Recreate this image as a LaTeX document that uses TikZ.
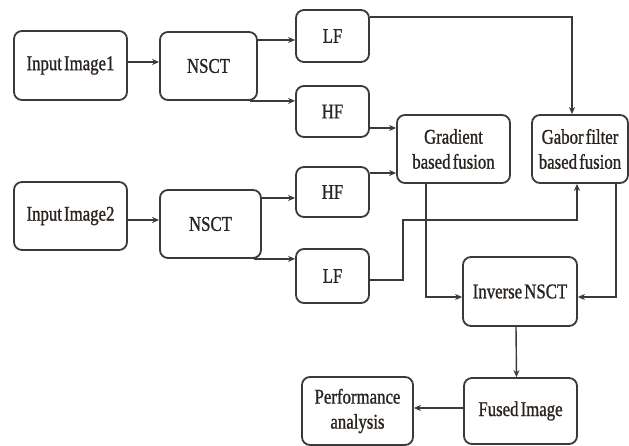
\documentclass[tikz,border=0pt]{standalone}
\usepackage{fontspec}
\setmainfont{Liberation Serif}[FakeStretch=0.8, FakeBold=1.0, WordSpace=0.5]
\usetikzlibrary{arrows.meta}
\definecolor{lincol}{HTML}{3A3A3A}
\definecolor{txtcol}{HTML}{2A2420}
\begin{document}
\begin{tikzpicture}[x=1pt,y=1pt,
  box/.style={draw=lincol, line width=1.8pt, rounded corners=8pt, inner sep=0pt,
    align=center, text=txtcol, font=\fontsize{21}{25}\selectfont},
  arr/.style={draw=lincol, line width=1.4pt, -{Stealth[length=7pt,width=6pt]}},
  ln/.style={draw=lincol, line width=1.4pt}]
\useasboundingbox (0,0) rectangle (629,446);
\fill[white] (0,0) rectangle (629,446);
% nodes
\node[box, minimum width=113pt, minimum height=69pt] (in1) at (70.5,380.5) {Input Image1};
\node[box, minimum width=97pt, minimum height=68pt] (nsct1) at (208.5,380) {NSCT};
\node[box, minimum width=73pt, minimum height=52pt] (lf1) at (332.5,410) {LF};
\node[box, minimum width=73pt, minimum height=51pt] (hf1) at (332.5,334.5) {HF};
\node[box, minimum width=113pt, minimum height=68pt] (in2) at (70.5,230) {Input Image2};
\node[box, minimum width=101pt, minimum height=68pt] (nsct2) at (210.5,222) {NSCT};
\node[box, minimum width=73pt, minimum height=50pt] (hf2) at (332.5,254) {HF};
\node[box, minimum width=73pt, minimum height=54pt] (lf2) at (332.5,170) {LF};
\node[box, minimum width=113pt, minimum height=68pt] (grad) at (453.5,297) {Gradient\\based fusion};
\node[box, minimum width=96pt, minimum height=68pt] (gabor) at (580,297) {Gabor filter\\based fusion};
\node[box, minimum width=114pt, minimum height=69pt] (inv) at (520,154.5) {Inverse NSCT};
\node[box, minimum width=113pt, minimum height=66pt] (fused) at (520.5,35) {Fused Image};
\node[box, minimum width=111pt, minimum height=68pt] (perf) at (357.5,35) {Performance\\analysis};
% connectors
\draw[arr] (in1.east |- 0,384) -- (nsct1.west |- 0,384);
\draw[arr] (nsct1.east |- 0,406) -- (lf1.west |- 0,406);
\draw[arr] ([xshift=-8pt]nsct1.south east) -- (hf1.west |- nsct1.south);
\draw[arr] (in2.east |- 0,226) -- (nsct2.west |- 0,226);
\draw[arr] (nsct2.east |- 0,248) -- (hf2.west |- 0,248);
\draw[arr] ([xshift=-8pt]nsct2.south east) -- (lf2.west |- nsct2.south);
\draw[arr] (lf1.east |- 0,429) -| ([xshift=-8pt]gabor.north);
\draw[arr] (hf1.east |- 0,318) -- (grad.west |- 0,318);
\draw[arr] (hf2.east |- 0,273) -- (grad.west |- 0,273);
\coordinate (bend1) at (403,226);
\draw[arr] (lf2.east |- 0,166) -| (bend1) -| ([xshift=-3pt]gabor.south);
\draw[arr] (grad.south -| 426,0) |- (inv.west |- 0,149);
\draw[arr] (gabor.south -| 616,0) |- (inv.east |- 0,149);
\draw[arr] ([xshift=-4pt]inv.south) -- ([xshift=-4pt]fused.north);
\draw[arr] (fused.west |- 0,38) -- (perf.east |- 0,38);
\end{tikzpicture}
\end{document}
